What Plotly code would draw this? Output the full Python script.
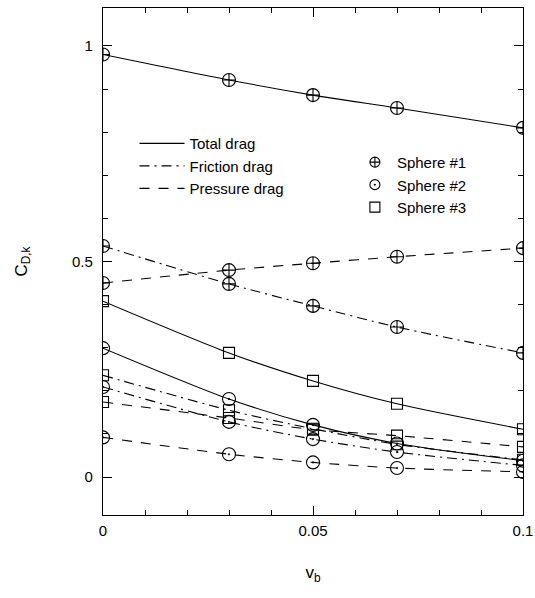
import plotly.graph_objects as go

vb = [0.0, 0.03, 0.05, 0.07, 0.1]

s1_total = [0.980, 0.921, 0.886, 0.856, 0.810]
s1_friction = [0.536, 0.448, 0.397, 0.348, 0.288]
s1_pressure = [0.450, 0.480, 0.496, 0.511, 0.531]

s2_total = [0.299, 0.181, 0.121, 0.078, 0.038]
s2_friction = [0.209, 0.128, 0.088, 0.058, 0.027]
s2_pressure = [0.092, 0.053, 0.034, 0.021, 0.012]

s3_total = [0.408, 0.288, 0.223, 0.170, 0.111]
s3_friction = [0.236, 0.155, 0.112, 0.076, 0.040]
s3_pressure = [0.174, 0.137, 0.110, 0.096, 0.070]

line_names = ["Total drag", "Friction drag", "Pressure drag"]
sphere_names = ["Sphere #1", "Sphere #2", "Sphere #3"]

dashes = ["solid", "10px,5px,2px,5px", "10px,9px"]
symbols = ["circle-cross-open", "circle-open-dot", "square-open"]
sizes = [13, 13, 11]

FONT = "Liberation Sans, Arial, Helvetica, sans-serif"

fig = go.Figure()

series = [
    (0, [s1_total, s1_friction, s1_pressure]),
    (1, [s2_total, s2_friction, s2_pressure]),
    (2, [s3_total, s3_friction, s3_pressure]),
]
for si, lst in series:
    for li, vals in enumerate(lst):
        fig.add_trace(go.Scatter(
            x=vb, y=vals, mode="lines+markers",
            line=dict(color="black", width=1.1, dash=dashes[li], shape="spline", smoothing=0.8),
            marker=dict(symbol=symbols[si], size=sizes[si], color="black",
                        line=dict(color="black", width=1.1)),
            showlegend=False, hoverinfo="skip"))

for li, nm in enumerate(line_names):
    fig.add_trace(go.Scatter(
        x=[None], y=[None], mode="lines", name=nm,
        line=dict(color="black", width=1.3, dash=dashes[li]),
        legend="legend"))

for si, nm in enumerate(sphere_names):
    fig.add_trace(go.Scatter(
        x=[None], y=[None], mode="markers", name=nm,
        marker=dict(symbol=symbols[si], size=10, color="black",
                    line=dict(color="black", width=1.1)),
        legend="legend2"))

axis_common = dict(
    showgrid=False, zeroline=False, showline=True, linecolor="black", linewidth=1.2,
    mirror="ticks", ticks="inside", tickcolor="black", tickwidth=1,
    tickfont=dict(family=FONT, size=15, color="black"),
    automargin=False,
)

fig.update_layout(
    width=535, height=598,
    margin=dict(l=103, r=12, t=8, b=83),
    paper_bgcolor="white", plot_bgcolor="white",
    font=dict(family=FONT, size=15, color="black"),
    xaxis=dict(
        range=[0, 0.1], tickvals=[0, 0.05, 0.1], ticktext=["0", "0.05", "0.1"],
        ticklen=9, ticklabelstandoff=2, ticklabeloverflow="allow",
        minor=dict(dtick=0.01, ticklen=5, ticks="inside", tickcolor="black", showgrid=False),
        title=dict(text="v<sub>b</sub>", font=dict(family=FONT, size=17), standoff=28),
        **axis_common),
    yaxis=dict(
        range=[-0.088, 1.088], tickvals=[0, 0.5, 1], ticktext=["0", "0.5", "1"],
        ticklen=9, ticklabelstandoff=6,
        minor=dict(tick0=0, dtick=0.1, ticklen=5, ticks="inside", tickcolor="black", showgrid=False),
        title=dict(text="C<sub>D,k</sub>", font=dict(family=FONT, size=17), standoff=40),
        **axis_common),
    legend=dict(x=0.075, y=0.765, xanchor="left", yanchor="top",
                bgcolor="rgba(0,0,0,0)", borderwidth=0,
                font=dict(family=FONT, size=15), itemwidth=45, tracegroupgap=0),
    legend2=dict(x=0.595, y=0.728, xanchor="left", yanchor="top",
                 bgcolor="rgba(0,0,0,0)", borderwidth=0,
                 font=dict(family=FONT, size=15), itemwidth=34, tracegroupgap=0),
)

fig.write_html("out.html", config={"displayModeBar": False},
               post_script="document.body.style.margin='0';document.body.style.overflow='hidden';")
